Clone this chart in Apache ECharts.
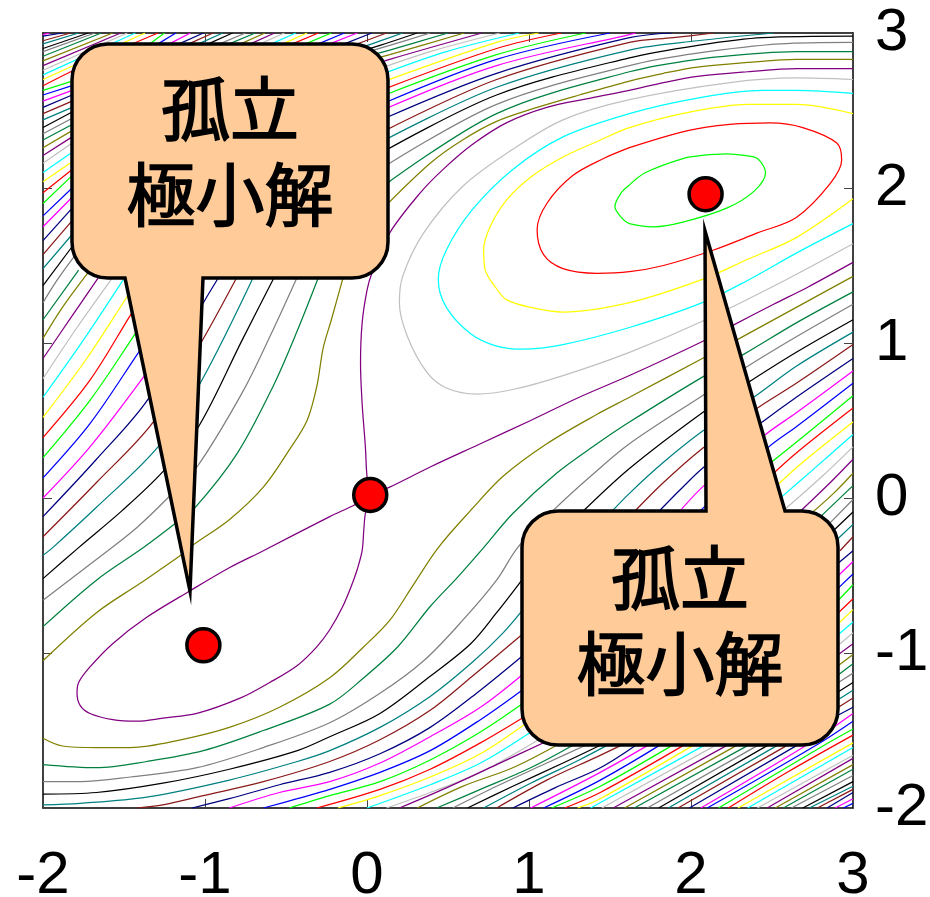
<!DOCTYPE html>
<html>
<head>
<meta charset="utf-8">
<style>
  html, body { margin: 0; padding: 0; background: #fff; }
  #chart { width: 930px; height: 897px; }
</style>
<script src="https://cdn.jsdelivr.net/npm/echarts@6/dist/echarts.min.js"></script>
</head>
<body>
<div id="chart"></div>
<script>
// tick labels
const xTicks = [-2, -1, 0, 1, 2, 3];
const yTicks = [-2, -1, 0, 1, 2, 3];

// stationary points marked with a red dot
const stationary = [[-1.01, -0.95], [0.02, 0.02], [2.09, 1.96]];

// breaks a contour where the speech bubbles hide it
const gap = [null, null];

// contour lines, [x, y], level 1 is the innermost one
const ring01 = [[1.62,2.02],[1.72,2.10],[1.95,2.19],[2.07,2.21],[2.22,2.22],[2.33,2.21],[2.41,2.19],[2.46,2.10],[2.39,1.98],[2.22,1.87],[1.95,1.78],[1.77,1.75],[1.62,1.77],[1.57,1.81],[1.53,1.88],[1.57,1.97],[1.62,2.02]];
const ring02 = [[1.62,2.26],[1.98,2.37],[2.24,2.41],[2.49,2.42],[2.69,2.39],[2.90,2.29],[2.93,2.18],[2.86,2.03],[2.65,1.81],[2.41,1.71],[2.14,1.60],[1.83,1.50],[1.62,1.46],[1.42,1.45],[1.21,1.48],[1.09,1.57],[1.05,1.73],[1.11,1.90],[1.27,2.08],[1.46,2.19],[1.62,2.26]];
const open03 = [[3,2.48],[2.65,2.54],[2.35,2.54],[1.99,2.49],[1.62,2.39],[1.42,2.30],[1.21,2.20],[1.01,2.07],[0.86,1.92],[0.76,1.75],[0.72,1.60],[0.73,1.47],[0.80,1.35],[0.86,1.28],[1.01,1.23],[1.21,1.20],[1.62,1.26],[2.07,1.41],[2.35,1.54],[2.65,1.68],[3,1.93]];
const open04 = [[3,2.61],[2.65,2.63],[2.44,2.63],[2.04,2.58],[1.62,2.48],[1.21,2.33],[0.90,2.12],[0.65,1.86],[0.49,1.60],[0.44,1.41],[0.49,1.23],[0.64,1.06],[0.80,0.98],[0.96,0.96],[1.21,0.99],[1.62,1.10],[2.07,1.26],[2.36,1.41],[2.65,1.58],[3,1.77]];
const open05 = [[3,2.70],[2.65,2.71],[2.24,2.68],[1.62,2.57],[1.21,2.44],[0.90,2.25],[0.59,2.01],[0.35,1.71],[0.22,1.43],[0.20,1.26],[0.25,1.04],[0.37,0.81],[0.49,0.71],[0.68,0.67],[0.90,0.70],[1.21,0.79],[1.62,0.94],[2.07,1.14],[2.59,1.41],[3,1.64]];
// level 6 runs through the saddle, so it comes in three pieces
const saddleUp = [[3,2.77],[2.65,2.77],[2.35,2.75],[2.04,2.72],[1.83,2.68],[1.62,2.63],[1.38,2.58],[1.11,2.52],[0.86,2.42],[0.65,2.28],[0.47,2.12],[0.33,1.97],[0.14,1.71],[0.03,1.45],[0,1.34],[-0.03,1.13],[-0.04,0.87],[-0.03,0.61],[-0.01,0.33],[0,0.14],[0.02,0.02]];
const saddleLoop = [[0.02,0.02],[-0.01,-0.10],[-0.02,-0.21],[-0.03,-0.34],[-0.06,-0.46],[-0.09,-0.55],[-0.15,-0.70],[-0.23,-0.85],[-0.31,-0.96],[-0.43,-1.08],[-0.60,-1.19],[-0.78,-1.29],[-1.05,-1.39],[-1.26,-1.42],[-1.42,-1.44],[-1.57,-1.43],[-1.71,-1.39],[-1.77,-1.34],[-1.79,-1.26],[-1.78,-1.19],[-1.71,-1.09],[-1.57,-0.94],[-1.36,-0.77],[-1.11,-0.61],[-0.85,-0.45],[-0.64,-0.34],[-0.23,-0.12],[-0.07,-0.04],[0.02,0.02]];
const saddleRight = [[0.02,0.02],[0.14,0.07],[0.39,0.20],[0.70,0.35],[1.01,0.50],[1.31,0.65],[1.62,0.79],[2.07,1.01],[2.27,1.12],[2.51,1.25],[2.72,1.36],[3,1.52]];

// levels 7 and up have a lower right branch (lo) and an upper left branch (up)
const lo07 = [[-2,-1.55],[-1.88,-1.60],[-1.67,-1.61],[-1.46,-1.61],[-1.15,-1.56],[-0.85,-1.48],[-0.54,-1.35],[-0.23,-1.16],[-0.02,-0.96],[0.14,-0.79],[0.28,-0.57],[0.44,-0.32],[0.64,-0.08],[0.84,0.14],[1.11,0.35],[1.42,0.54],[1.62,0.65],[2.07,0.90],[2.30,1.03],[2.65,1.23],[3,1.43]];
const up07 = [[-2,-1.05],[-1.67,-0.74],[-1.40,-0.55],[-1.15,-0.37],[-1.07,-0.30],[-0.85,-0.14],[-0.64,0.07],[-0.48,0.31],[-0.37,0.50],[-0.31,0.72],[-0.27,0.97],[-0.22,1.15],[-0.14,1.45],gap,[0.11,1.88],[0.39,2.16],[0.59,2.31],[0.80,2.43],[1.05,2.52],[1.31,2.60],[1.62,2.69],[1.83,2.74],[2.04,2.78],[2.35,2.81],[2.65,2.83],[3,2.83]];
const lo08 = [[-2,-1.72],[-1.67,-1.74],[-1.36,-1.70],[-1.01,-1.63],[-0.64,-1.50],[-0.23,-1.33],[-0.02,-1.16],[0.19,-0.96],[0.39,-0.70],[0.56,-0.51],[0.72,-0.32],[0.90,-0.10],[1.17,0.16],[1.42,0.35],[1.62,0.49],[2.07,0.78],[2.33,0.93],[2.65,1.13],[3,1.33]];
const up08 = [[-2,-0.83],[-1.67,-0.53],[-1.38,-0.32],[-1.19,-0.17],[-1.06,-0.06],[-0.80,0.29],[-0.58,0.72],[-0.43,1.08],[-0.29,1.45],gap,[0.11,2.02],[0.80,2.48],[1.62,2.75],[2.04,2.83],[2.44,2.87],[2.65,2.88],[3,2.88]];
const lo09 = [[-2,-1.83],[-1.77,-1.83],[-1.46,-1.80],[-1.05,-1.74],[-0.64,-1.61],[-0.23,-1.45],[0.08,-1.26],[0.35,-1.05],[0.59,-0.79],[0.80,-0.53],[0.93,-0.32],[1.15,-0.08],[1.38,0.14],[1.62,0.35],[2.07,0.66],[2.35,0.85],[2.65,1.04],[3,1.25]];
const up09 = [[-2,-0.66],[-1.60,-0.34],[-1.42,-0.19],[-1.23,0],[-1.05,0.20],[-0.77,0.68],[-0.60,1.04],[-0.42,1.45],gap,[0.11,2.14],[0.80,2.54],[1.62,2.79],[2.04,2.87],[2.55,2.93],[3,2.94]];
const lo10 = [[-2,-1.91],[-1.67,-1.90],[-1.26,-1.84],[-0.85,-1.75],[-0.43,-1.63],[-0.23,-1.54],[0.08,-1.39],[0.39,-1.15],[0.64,-0.94],[0.80,-0.74],[0.97,-0.51],gap,[1.31,-0.11],[1.62,0.19],[2.07,0.55],[2.36,0.75],[2.65,0.94],[3,1.15]];
const up10 = [[-2,-0.52],[-1.78,-0.32],[-1.51,-0.08],[-1.26,0.17],[-1.04,0.46],[-0.77,1.02],[-0.56,1.45],gap,[0.11,2.24],[0.80,2.60],[1.62,2.84],[2.04,2.92],[2.44,2.97],[3,2.98]];
const lo11 = [[-2,-1.98],[-1.77,-1.97],[-1.36,-1.93],[-0.85,-1.82],[-0.43,-1.70],[-0.23,-1.63],[0.08,-1.48],[0.39,-1.28],[0.65,-1.06],[0.84,-0.87],[0.97,-0.71],gap,[1.49,-0.11],[1.62,0.03],[1.83,0.23],[2.07,0.43],[2.40,0.66],[2.65,0.85],[3,1.07]];
const up11 = [[-2,-0.37],[-1.94,-0.32],[-1.67,-0.06],[-1.29,0.33],[-1.03,0.74],[-0.69,1.45],gap,[0.11,2.31],[0.80,2.65],[1.62,2.89],[2.04,2.95],[2.51,3]];
const lo12 = [[-1.42,-2],[-1.26,-1.98],[-1.01,-1.92],[-0.64,-1.83],[-0.23,-1.70],[0.08,-1.56],[0.39,-1.37],[0.65,-1.15],[0.97,-0.87],gap,[1.63,-0.11],[1.83,0.10],[2.07,0.32],[2.41,0.58],[2.65,0.74],[3,0.99]];
const up12 = [[-2,-0.25],[-1.67,0.10],[-1.32,0.49],[-1.02,1.01],[-0.79,1.45],gap,[0.11,2.37],[0.80,2.70],[1.62,2.94],[1.89,2.97],[2.14,3]];
const lo13 = [[-1.08,-2],[-0.85,-1.94],[-0.54,-1.85],[-0.23,-1.77],[0.08,-1.65],[0.39,-1.48],[0.70,-1.24],[0.97,-1.01],gap,[1.78,-0.11],[1.93,0.05],[2.08,0.20],[2.44,0.49],[2.65,0.65],[3,0.90]];
const up13 = [[-2,-0.12],[-1.67,0.25],[-1.35,0.64],[-1.01,1.26],[-0.90,1.45],gap,[0.11,2.45],[0.80,2.74],[1.62,2.97],[1.88,3]];
const lo14 = [[-0.85,-2],[-0.54,-1.90],[-0.23,-1.83],[0.08,-1.71],[0.39,-1.54],[0.70,-1.35],[0.97,-1.13],gap,[1.91,-0.11],[2.08,0.08],[2.46,0.41],[2.65,0.55],[3,0.82]];
const up14 = [[-2,0],[-1.71,0.33],[-1.38,0.78],[-1.33,0.86],gap,[0.11,2.51],[0.80,2.79],[1.62,2.99],[1.66,3]];
const lo15 = [[-0.64,-2],[-0.43,-1.94],[-0.23,-1.88],[0.08,-1.77],[0.39,-1.63],[0.70,-1.43],[0.97,-1.23],gap,[2.03,-0.11],[2.48,0.33],[2.65,0.46],[3,0.74]];
const up15 = [[-2,0.13],[-1.71,0.48],[-1.41,0.94],[-1.36,1.02],gap,[0.11,2.55],[0.80,2.83],[1.50,3]];
const lo16 = [[-0.48,-2],[-0.23,-1.92],[0.08,-1.83],[0.39,-1.69],[0.70,-1.51],[0.97,-1.32],gap,[2.47,0.21],[2.65,0.36],[3,0.66]];
const up16 = [[-2,0.26],[-1.71,0.63],[-1.43,1.06],[-1.38,1.14],gap,[0.11,2.60],[0.80,2.86],[1.35,3]];
const lo17 = [[-0.31,-2],[0.08,-1.88],[0.39,-1.75],[0.70,-1.58],[0.99,-1.40],gap,[2.48,0.13],[2.65,0.29],[3,0.58]];
const up17 = [[-2,0.39],[-1.71,0.76],[-1.46,1.18],[-1.41,1.26],gap,[0.11,2.64],[0.80,2.90],[1.20,3]];
const lo18 = [[-0.18,-2],[0.08,-1.92],[0.39,-1.80],[0.70,-1.65],[1.00,-1.44],gap,[2.51,0.06],[2.69,0.23],[3,0.49]];
const up18 = [[-2,0.52],[-1.73,0.90],[-1.48,1.30],[-1.43,1.38],gap,[0.11,2.69],[0.80,2.94],[1.06,3]];
const lo19 = [[0,-2],[0.39,-1.85],[0.70,-1.71],[1.04,-1.49],gap,[2.53,-0.02],[2.75,0.18],[3,0.41]];
const up19 = [[-2,0.65],[-1.75,1.02],[-1.46,1.48],gap,[0.08,2.73],[0.49,2.88],[0.94,3]];
const lo20 = [[0.12,-2],[0.39,-1.90],[0.70,-1.77],[1.09,-1.54],gap,[2.55,-0.10],[2.81,0.14],[3,0.33]];
const up20 = [[-2,0.77],[-1.79,1.10],[-1.53,1.48],gap,[0.05,2.76],[0.39,2.88],[0.82,3]];
const lo21 = [[0.20,-2],[0.49,-1.87],[0.80,-1.72],[1.13,-1.56],gap,[2.65,-0.11],[2.86,0.10],[3,0.25]];
const up21 = [[-2,0.90],[-1.83,1.16],[-1.62,1.48],gap,[0.03,2.79],[0.14,2.83],[0.71,3]];
const lo22 = [[0.31,-2],[0.59,-1.86],[0.90,-1.74],[1.18,-1.59],gap,[2.73,-0.11],[2.88,0.03],[3,0.16]];
const up22 = [[-2,1.03],[-1.88,1.23],[-1.71,1.47],gap,[-0.01,2.82],[0.14,2.86],[0.60,3]];
const lo23 = [[0.43,-2],[0.70,-1.88],[1.01,-1.74],[1.28,-1.59],gap,[2.79,-0.13],[3,0.08]];
const up23 = [[-2,1.15],[-1.78,1.47],gap,[-0.04,2.84],[0.14,2.89],[0.50,3]];
const lo24 = [[0.53,-2],[0.80,-1.86],[1.11,-1.71],[1.36,-1.59],gap,[2.84,-0.18],[3,-0.01]];
const up24 = [[-2,1.26],[-1.91,1.41],[-1.77,1.61],gap,[-0.09,2.85],[0.14,2.92],[0.39,3]];
const lo25 = [[0.62,-2],[0.90,-1.86],[1.21,-1.71],[1.45,-1.59],gap,[2.88,-0.21],[3,-0.09]];
const up25 = [[-2,1.37],[-1.80,1.65],gap,[-0.14,2.85],[0.08,2.92],[0.31,3]];
const lo26 = [[0.72,-2],[1.01,-1.84],[1.31,-1.69],[1.51,-1.58],gap,[2.91,-0.26],[3,-0.17]];
const up26 = [[-2,1.48],[-1.82,1.70],gap,[-0.17,2.86],[0.03,2.93],[0.22,3]];
const lo27 = [[0.80,-2],[1.11,-1.82],[1.42,-1.67],[1.60,-1.58],gap,[2.92,-0.34],[3,-0.25]];
const up27 = [[-2,1.57],[-1.82,1.79],gap,[-0.20,2.88],[-0.06,2.93],[0.12,3]];
const lo28 = [[0.90,-2],[1.16,-1.87],[1.44,-1.74],[1.68,-1.58],gap,[2.91,-0.42],[3,-0.34]];
const up28 = [[-2,1.66],[-1.82,1.87],gap,[-0.14,2.93],[0.03,3]];
const lo29 = [[1.01,-2],[1.44,-1.77],[1.76,-1.58],gap,[2.91,-0.50],[3,-0.41]];
const up29 = [[-2,1.75],[-1.82,1.94],gap,[-0.23,2.93],[-0.06,3]];
const lo30 = [[1.09,-2],[1.44,-1.82],[1.83,-1.58],gap,[2.91,-0.58],[3,-0.49]];
const up30 = [[-2,1.82],[-1.82,2.00],gap,[-0.30,2.93],[-0.14,3]];
const lo31 = [[1.14,-2],[1.44,-1.86],[1.91,-1.58],gap,[2.91,-0.66],[3,-0.56]];
const up31 = [[-2,1.90],[-1.82,2.08],gap,[-0.38,2.93],[-0.22,3]];
const lo32 = [[1.22,-2],[1.44,-1.90],[1.98,-1.58],gap,[2.91,-0.74],[3,-0.65]];
const up32 = [[-2,1.97],[-1.82,2.12],gap,[-0.46,2.93],[-0.30,3]];
const lo33 = [[1.30,-2],[1.44,-1.94],[2.04,-1.58],gap,[2.91,-0.81],[3,-0.72]];
const up33 = [[-2,2.04],[-1.82,2.17],gap,[-0.52,2.93],[-0.37,3]];
const lo34 = [[1.38,-2],[2.11,-1.58],gap,[2.91,-0.88],[3,-0.80]];
const up34 = [[-2,2.10],[-1.82,2.23],gap,[-0.59,2.93],[-0.44,3]];
const lo35 = [[1.45,-2],[2.18,-1.58],gap,[2.91,-0.95],[3,-0.87]];
const up35 = [[-2,2.16],[-1.82,2.29],gap,[-0.66,2.93],[-0.51,3]];
const lo36 = [[1.52,-2],[2.25,-1.58],gap,[2.91,-1.01],[3,-0.94]];
const up36 = [[-2,2.21],[-1.82,2.33],gap,[-0.72,2.93],[-0.57,3]];
const lo37 = [[1.59,-2],[2.31,-1.58],gap,[2.91,-1.08],[3,-1.01]];
const up37 = [[-2,2.26],[-1.82,2.37],gap,[-0.78,2.93],[-0.63,3]];
const lo38 = [[1.65,-2],[2.38,-1.58],gap,[2.91,-1.14],[3,-1.07]];
const up38 = [[-2,2.31],[-1.82,2.41],gap,[-0.85,2.93],[-0.69,3]];
const lo39 = [[1.73,-2],[2.44,-1.58],gap,[2.91,-1.19],[3,-1.13]];
const up39 = [[-2,2.35],[-1.82,2.45],gap,[-0.91,2.93],[-0.75,3]];
const lo40 = [[1.80,-2],[2.50,-1.58],gap,[2.91,-1.25],[3,-1.19]];
const up40 = [[-2,2.39],[-1.82,2.49],gap,[-0.98,2.93],[-0.83,3]];
const lo41 = [[1.86,-2],[2.56,-1.58],gap,[2.91,-1.30],[3,-1.24]];
const up41 = [[-2,2.44],[-1.82,2.52],gap,[-1.04,2.93],[-0.89,3]];
const lo42 = [[1.92,-2],[2.62,-1.58],gap,[2.91,-1.35],[3,-1.29]];
const up42 = [[-2,2.48],[-1.82,2.56],gap,[-1.10,2.93],[-0.95,3]];
const lo43 = [[1.99,-2],[2.68,-1.58],gap,[2.91,-1.40],[3,-1.35]];
const up43 = [[-2,2.52],[-1.82,2.60],gap,[-1.16,2.93],[-1.01,3]];
const lo44 = [[2.06,-2],[2.72,-1.59],[3,-1.39]];
const up44 = [[-2,2.56],[-1.82,2.63],gap,[-1.22,2.93],[-1.09,3]];
const lo45 = [[2.10,-2],[2.78,-1.59],[3,-1.44]];
const up45 = [[-2,2.60],[-1.82,2.66],gap,[-1.29,2.93],[-1.18,3]];
const lo46 = [[2.17,-2],[2.83,-1.59],[3,-1.49]];
const up46 = [[-2,2.63],[-1.82,2.69],gap,[-1.34,2.93],[-1.25,3]];
const lo47 = [[2.23,-2],[2.61,-1.76],[3,-1.53]];
const up47 = [[-2,2.66],[-1.71,2.81],[-1.29,3]];
const lo48 = [[2.29,-2],[3,-1.58]];
const up48 = [[-2,2.70],[-1.37,3]];
const lo49 = [[2.35,-2],[3,-1.61]];
const up49 = [[-2,2.73],[-1.43,3]];
const lo50 = [[2.41,-2],[3,-1.66]];
const up50 = [[-2,2.76],[-1.48,3]];
const lo51 = [[2.47,-2],[3,-1.68]];
const up51 = [[-2,2.79],[-1.52,3]];
const lo52 = [[2.52,-2],[3,-1.72]];
const up52 = [[-2,2.82],[-1.57,3]];
const lo53 = [[2.57,-2],[3,-1.75]];
const up53 = [[-2,2.85],[-1.64,3]];
const lo54 = [[2.62,-2],[3,-1.79]];
const up54 = [[-2,2.88],[-1.68,3]];
const lo55 = [[2.69,-2],[3,-1.83]];
const up55 = [[-2,2.90],[-1.72,3]];
const lo56 = [[2.73,-2],[3,-1.86]];
const up56 = [[-2,2.93],[-1.78,3]];
const lo57 = [[2.78,-2],[3,-1.88]];
const up57 = [[-2,2.95],[-1.83,3]];
const lo58 = [[2.84,-2],[3,-1.90]];
const up58 = [[-2,2.98],[-1.88,3]];
const lo59 = [[2.89,-2],[3,-1.94]];
const up59 = [[-2,2.99],[-1.96,3]];
const lo60 = [[2.94,-2],[3,-1.97]];

// the pieces of each level, in order, the colours repeat every 15 levels
const levels = [
  [ring01], [ring02], [open03], [open04], [open05],
  [saddleUp, saddleLoop, saddleRight],
  [lo07, up07], [lo08, up08], [lo09, up09], [lo10, up10], [lo11, up11],
  [lo12, up12], [lo13, up13], [lo14, up14], [lo15, up15], [lo16, up16],
  [lo17, up17], [lo18, up18], [lo19, up19], [lo20, up20], [lo21, up21],
  [lo22, up22], [lo23, up23], [lo24, up24], [lo25, up25], [lo26, up26],
  [lo27, up27], [lo28, up28], [lo29, up29], [lo30, up30], [lo31, up31],
  [lo32, up32], [lo33, up33], [lo34, up34], [lo35, up35], [lo36, up36],
  [lo37, up37], [lo38, up38], [lo39, up39], [lo40, up40], [lo41, up41],
  [lo42, up42], [lo43, up43], [lo44, up44], [lo45, up45], [lo46, up46],
  [lo47, up47], [lo48, up48], [lo49, up49], [lo50, up50], [lo51, up51],
  [lo52, up52], [lo53, up53], [lo54, up54], [lo55, up55], [lo56, up56],
  [lo57, up57], [lo58, up58], [lo59, up59], [lo60]
];
const levelColors = ['#00ff00', '#ff0000', '#ffff00', '#00ffff', '#c0c0c0',
  '#800080', '#808000', '#008040', '#808080', '#000000',
  '#008080', '#8b1a1a', '#000080', '#ff00ff', '#0000ff'];

const calloutText = '孤立\n極小解';
const labelFont = '"Liberation Sans", Arial, sans-serif';

const series = [];
levels.forEach((pieces, i) => {
  pieces.forEach(piece => {
    series.push({
      type: 'line',
      data: piece,
      smooth: 0.33,
      symbol: 'none',
      silent: true,
      lineStyle: { color: levelColors[i % levelColors.length], width: 1.25 }
    });
  });
});
series.push({
  type: 'scatter',
  data: stationary,
  symbolSize: 33,
  silent: true,
  z: 5,
  itemStyle: { color: '#ff0000', borderColor: '#000', borderWidth: 3.5, opacity: 1 }
});

// speech bubbles, the graphic component has no path type so a custom series draws them
function bubble(pathData, x, y, width, height) {
  return {
    type: 'path',
    shape: { pathData: pathData, layout: 'cover', x: x, y: y, width: width, height: height },
    style: { fill: '#ffcc99', stroke: '#000', lineWidth: 3.5, lineJoin: 'miter', miterLimit: 20 }
  };
}

function bubbleText(x, y) {
  return {
    type: 'text',
    x: x,
    y: y,
    style: {
      text: calloutText,
      fill: '#000',
      stroke: '#000',
      lineWidth: 1.6,
      font: '69px "Noto Sans CJK JP"',
      lineHeight: 86,
      align: 'center',
      verticalAlign: 'middle'
    }
  };
}

series.push({
  type: 'custom',
  coordinateSystem: 'none',
  data: [0],
  silent: true,
  z: 10,
  renderItem: () => ({
    type: 'group',
    children: [
      bubble('M108 44H352A36 36 0 0 1 388 80V242A36 36 0 0 1 352 278H203L190 591L125 278H108A36 36 0 0 1 72 242V80A36 36 0 0 1 108 44Z', 72, 44, 316, 547),
      bubbleText(230, 152),
      bubble('M558 511H706L705 231L785 511H802A36 36 0 0 1 838 547V709A36 36 0 0 1 802 745H558A36 36 0 0 1 522 709V547A36 36 0 0 1 558 511Z', 522, 231, 316, 514),
      bubbleText(680, 621)
    ]
  })
});

// one axis per side, so the frame and the ticks show all the way round
function makeAxis(type, position, ticks, withLabels) {
  return {
    type: 'value',
    position: position,
    min: ticks[0],
    max: ticks[ticks.length - 1],
    interval: 1,
    splitLine: { show: false },
    axisLine: { onZero: false, lineStyle: { color: '#000', width: 1.5 } },
    axisTick: { inside: true, length: 9, lineStyle: { color: '#444', width: 1 } },
    axisLabel: {
      show: withLabels,
      color: '#000',
      fontFamily: labelFont,
      fontSize: 60,
      margin: type === 'x' ? 38 : 22
    }
  };
}

const chart = echarts.init(document.getElementById('chart'), null, { renderer: 'canvas' });
chart.setOption({
  animation: false,
  backgroundColor: '#fff',
  // labels hang outside the canvas at the top, keep the grid where it is set
  grid: { left: 43, right: 77, top: 33, bottom: 89, outerBoundsMode: 'none' },
  xAxis: [makeAxis('x', 'bottom', xTicks, true), makeAxis('x', 'top', xTicks, false)],
  yAxis: [makeAxis('y', 'right', yTicks, true), makeAxis('y', 'left', yTicks, false)],
  series: series
});
</script>
</body>
</html>
